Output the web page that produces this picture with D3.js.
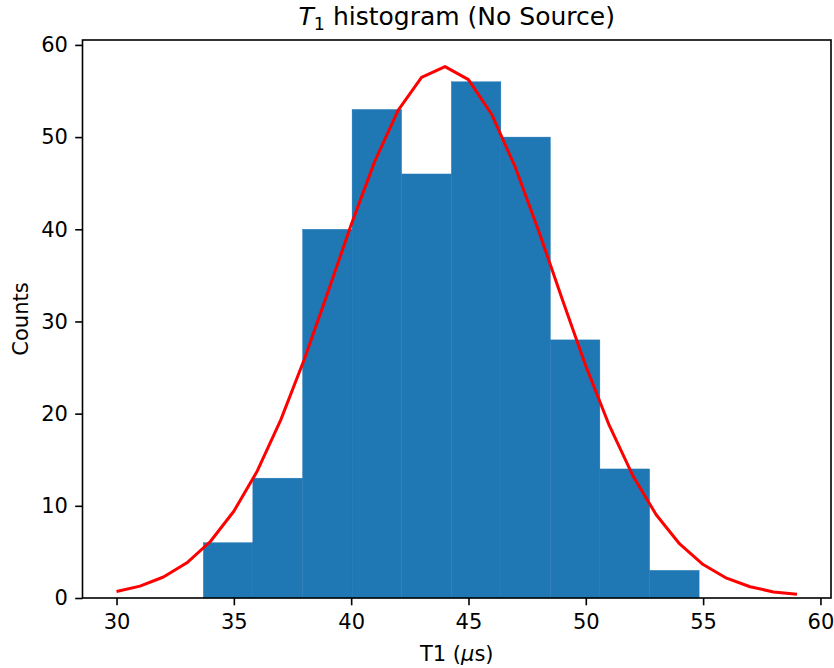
<!DOCTYPE html>
<html>
<head>
<meta charset="utf-8">
<script src="https://cdn.jsdelivr.net/npm/d3@7"></script>
<style>
  html, body { margin: 0; padding: 0; background: #fff; }
  svg { display: block; font-family: "DejaVu Sans", sans-serif; }
</style>
</head>
<body>
<svg id="chart" width="834" height="668"></svg>
<script>
// Histogram bin edges (µs) and counts per bin
const binEdges = [33.70, 35.81, 37.93, 40.04, 42.15, 44.27, 46.38, 48.49, 50.60, 52.72, 54.83];
const counts = [6, 13, 40, 53, 46, 56, 50, 28, 14, 3];

// Fitted Gaussian curve, sampled at integer T1 values
const fitX = [30, 31, 32, 33, 34, 35, 36, 37, 38, 39, 40, 41, 42, 43, 44,
              45, 46, 47, 48, 49, 50, 51, 52, 53, 54, 55, 56, 57, 58, 59];
const fitY = [0.70, 1.29, 2.28, 3.82, 6.13, 9.41, 13.78, 19.32, 25.87, 33.11, 40.49, 47.34, 52.89, 56.48, 57.65,
              56.23, 52.42, 46.70, 39.77, 32.37, 25.18, 18.72, 13.30, 9.03, 5.86, 3.63, 2.15, 1.22, 0.66, 0.40];

const xTicks = [30, 35, 40, 45, 50, 55, 60];
const yTicks = [0, 10, 20, 30, 40, 50, 60];

const svg = d3.select("#chart");
const plot = { left: 82.5, right: 831, top: 40, bottom: 598 };

// Axis limits with a 5% margin around the data
const xMin = d3.min([fitX[0], binEdges[0]]);
const xMax = d3.max([fitX[fitX.length - 1], binEdges[binEdges.length - 1]]);
const xPad = (xMax - xMin) * 0.05;
const yTop = d3.max([d3.max(counts), d3.max(fitY)]) * 1.05;

const x = d3.scaleLinear().domain([xMin - xPad, xMax + xPad]).range([plot.left, plot.right]);
const y = d3.scaleLinear().domain([0, yTop]).range([plot.bottom, plot.top]);

const bins = counts.map((c, i) => ({ x0: binEdges[i], x1: binEdges[i + 1], count: c }));

svg.append("g").selectAll("rect").data(bins).join("rect")
  .attr("x", d => x(d.x0))
  .attr("y", d => y(d.count))
  .attr("width", d => x(d.x1) - x(d.x0))
  .attr("height", d => y(0) - y(d.count))
  .attr("fill", "#1f77b4")
  .attr("stroke", "#1f77b4")
  .attr("stroke-width", 0.4);

const line = d3.line().x((d, i) => x(fitX[i])).y(d => y(d));
svg.append("path")
  .datum(fitY)
  .attr("d", line)
  .attr("fill", "none")
  .attr("stroke", "#ff0000")
  .attr("stroke-width", 3)
  .attr("stroke-linejoin", "round")
  .attr("stroke-linecap", "butt");

// Axes
const tickSize = 7.3;
const fontSize = 21;

const xAxis = svg.append("g").attr("transform", `translate(0,${plot.bottom})`)
  .call(d3.axisBottom(x).tickValues(xTicks).tickSize(tickSize).tickPadding(9).tickFormat(d3.format("d")));
const yAxis = svg.append("g").attr("transform", `translate(${plot.left},0)`)
  .call(d3.axisLeft(y).tickValues(yTicks).tickSize(tickSize).tickPadding(7.3).tickFormat(d3.format("d")));

[xAxis, yAxis].forEach(g => {
  g.select(".domain").remove();
  g.selectAll(".tick line").attr("stroke", "#000").attr("stroke-width", 1.6);
  g.selectAll(".tick text")
    .attr("fill", "#000")
    .style("font-family", "'DejaVu Sans', sans-serif")
    .style("font-size", fontSize + "px");
});

// Frame around the plotting area
svg.append("rect")
  .attr("x", plot.left).attr("y", plot.top)
  .attr("width", plot.right - plot.left).attr("height", plot.bottom - plot.top)
  .attr("fill", "none").attr("stroke", "#000").attr("stroke-width", 1.6);

// Title
const title = svg.append("text")
  .attr("x", (plot.left + plot.right) / 2).attr("y", 25)
  .attr("text-anchor", "middle")
  .style("font-size", "25px").attr("fill", "#000");
title.append("tspan").attr("font-style", "italic").text("T");
title.append("tspan").attr("dy", 5).style("font-size", "17.5px").text("1");
title.append("tspan").attr("dy", -5).text(" histogram (No Source)");

// X label
const xl = svg.append("text")
  .attr("x", (plot.left + plot.right) / 2).attr("y", 661)
  .attr("text-anchor", "middle")
  .style("font-size", fontSize + "px").attr("fill", "#000");
xl.append("tspan").text("T1 (");
xl.append("tspan").attr("font-style", "italic").text("μ");
xl.append("tspan").text("s)");

// Y label
svg.append("text")
  .attr("transform", `translate(28,${(plot.top + plot.bottom) / 2}) rotate(-90)`)
  .attr("text-anchor", "middle")
  .style("font-size", fontSize + "px").attr("fill", "#000")
  .text("Counts");
</script>
</body>
</html>
